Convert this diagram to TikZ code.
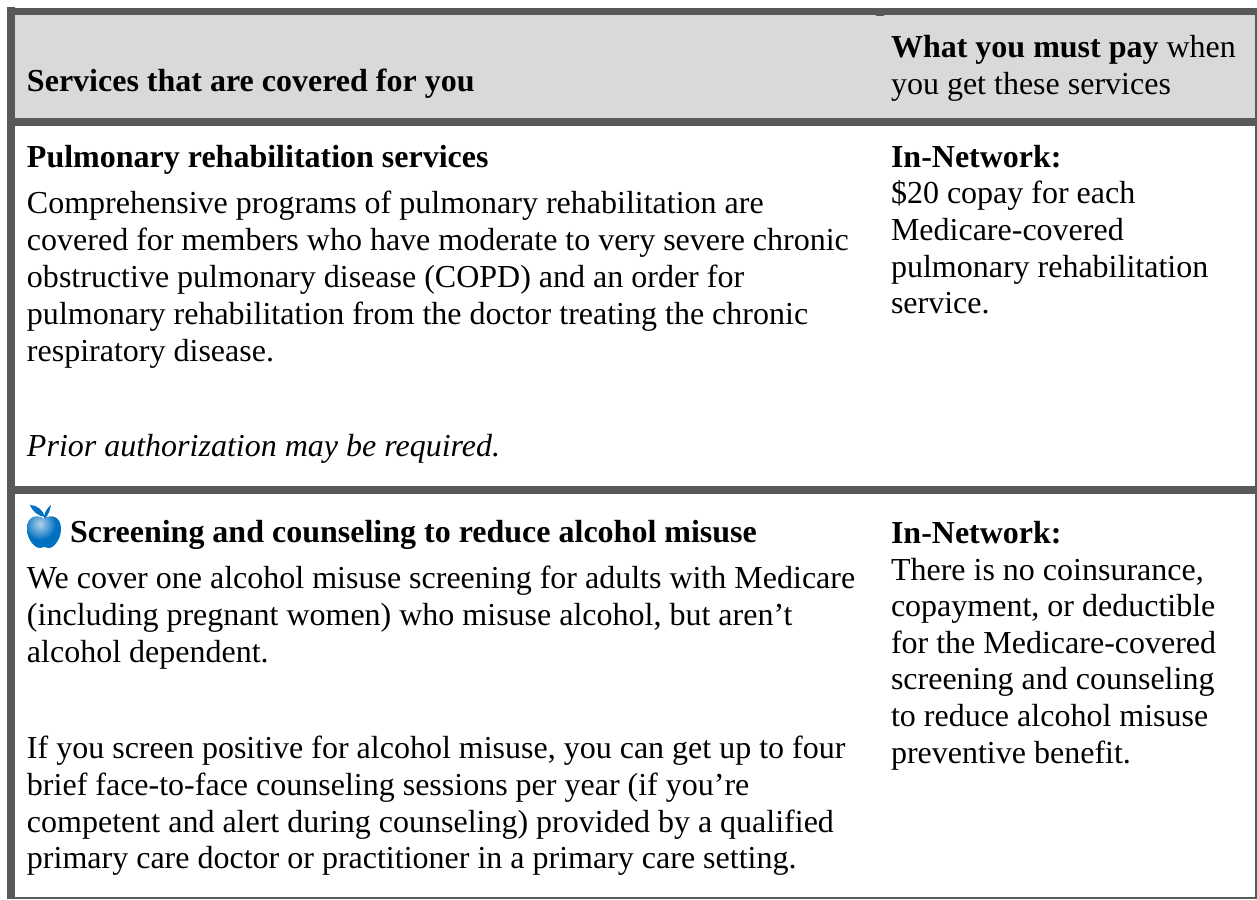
\documentclass[tikz,border=0pt]{standalone}
\usepackage{fontspec}
\setmainfont{Liberation Serif}
\definecolor{rulegray}{HTML}{595959}
\definecolor{headgray}{HTML}{D9D9D9}
\definecolor{appleblue}{HTML}{0070C0}
\tikzset{
  txt/.style={anchor=base west,inner sep=0pt,outer sep=0pt,font=\fontsize{32}{37}\selectfont,text=black},
  bar/.style={fill=rulegray,draw=none}
}
\begin{document}
\begin{tikzpicture}[x=1pt,y=-1pt]
\useasboundingbox (0,0) rectangle (1257,899);
\fill[white] (0,0) rectangle (1257,899);
\fill[headgray] (15,15) rectangle (1255,118);
\fill[bar] (7,8) rectangle (1257,15);
\fill[bar] (7,7) rectangle (15,899);
\fill[bar] (7,118) rectangle (1257,126);
\fill[bar] (7,486) rectangle (1257,494);
\fill[bar] (7,897) rectangle (1257,899);
\fill[bar] (1255,8) rectangle (1257,899);
\fill[bar] (876,15) rectangle (884,16);
\node[txt] (h1) at (27,91) {\textbf{Services that are covered for you}};
\node[txt] (h2) at (891,57) {\textbf{What you must pay} when};
\node[txt] (h3) at (891,94) {you get these services};
\node[txt] (a0) at (27,167) {\textbf{Pulmonary rehabilitation services}};
\node[txt] (a1) at (27,213) {Comprehensive programs of pulmonary rehabilitation are};
\node[txt] (a2) at (27,250) {covered for members who have moderate to very severe chronic};
\node[txt] (a3) at (27,287) {obstructive pulmonary disease (COPD) and an order for};
\node[txt] (a4) at (27,324) {pulmonary rehabilitation from the doctor treating the chronic};
\node[txt] (a5) at (27,361) {respiratory disease.};
\node[txt] (a6) at (27,456) {\textit{Prior authorization may be required.}};
\node[txt] (b0) at (891,167) {\textbf{In-Network:}};
\node[txt] (b1) at (891,203) {\$20 copay for each};
\node[txt] (b2) at (891,240) {Medicare-covered};
\node[txt] (b3) at (891,277) {pulmonary rehabilitation};
\node[txt] (b4) at (891,313) {service.};
% apple
\begin{scope}
\clip (44,519) .. controls (37,514) and (27,516) .. (27,529)
  .. controls (27,540) and (35,548) .. (40,548)
  .. controls (42,548) and (43,547) .. (44,547)
  .. controls (46,547) and (47,548) .. (49,548)
  .. controls (54,548) and (61,539) .. (61,529)
  .. controls (61,516) and (51,514) .. (44,519) -- cycle;
\fill[appleblue] (20,500) rectangle (70,555);
\shade[inner color=appleblue!30,outer color=appleblue,shading=radial] (40,524) circle (16);
\end{scope}
\fill[appleblue] (30,505) .. controls (37,505) and (43,510) .. (45,517)
  .. controls (38,516) and (33,512) .. (30,505) -- cycle;
\fill[appleblue] (44,518) .. controls (44,513) and (47,508) .. (51,505)
  .. controls (50,511) and (48,515) .. (45.5,518) -- cycle;
\node[txt] (c0) at (70,542) {\textbf{Screening and counseling to reduce alcohol misuse}};
\node[txt] (c1) at (27,588) {We cover one alcohol misuse screening for adults with Medicare};
\node[txt] (c2) at (27,625) {(including pregnant women) who misuse alcohol, but aren’t};
\node[txt] (c3) at (27,662) {alcohol dependent.};
\node[txt] (c4) at (27,758) {If you screen positive for alcohol misuse, you can get up to four};
\node[txt] (c5) at (27,795) {brief face-to-face counseling sessions per year (if you’re};
\node[txt] (c6) at (27,832) {competent and alert during counseling) provided by a qualified};
\node[txt] (c7) at (27,868) {primary care doctor or practitioner in a primary care setting.};
\node[txt] (d0) at (891,543) {\textbf{In-Network:}};
\node[txt] (d1) at (891,580) {There is no coinsurance,};
\node[txt] (d2) at (891,616) {copayment, or deductible};
\node[txt] (d3) at (891,653) {for the Medicare-covered};
\node[txt] (d4) at (891,689) {screening and counseling};
\node[txt] (d5) at (891,726) {to reduce alcohol misuse};
\node[txt] (d6) at (891,763) {preventive benefit.};
\end{tikzpicture}
\end{document}
